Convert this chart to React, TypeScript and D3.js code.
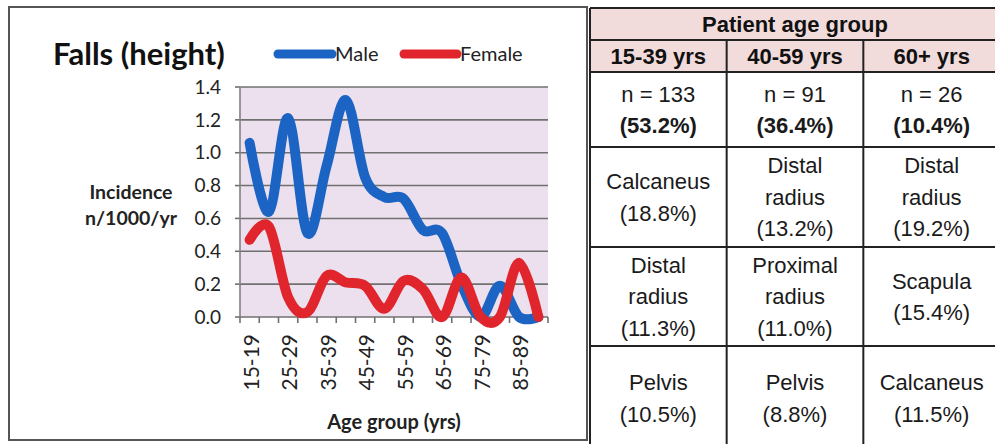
import React from "react";
import * as d3 from "d3";

const categories = ["15-19","20-24","25-29","30-34","35-39","40-44","45-49","50-54","55-59","60-64","65-69","70-74","75-79","80-84","85-89","90+"];
const maleValues = [1.06, 0.64, 1.21, 0.51, 0.92, 1.32, 0.85, 0.73, 0.72, 0.53, 0.51, 0.20, 0.0, 0.19, 0.0, 0.0];
const femaleValues = [0.47, 0.55, 0.12, 0.03, 0.25, 0.21, 0.19, 0.05, 0.22, 0.17, 0.0, 0.24, 0.0, 0.0, 0.33, 0.0];
const yTicks = [0, 0.2, 0.4, 0.6, 0.8, 1.0, 1.2, 1.4];
const seriesNames = ["Male", "Female"];

const tableTitle = "Patient age group";
const ageGroups = ["15-39 yrs", "40-59 yrs", "60+ yrs"];
const counts = ["n = 133", "n = 91", "n = 26"];
const shares = ["(53.2%)", "(36.4%)", "(10.4%)"];
const rank1 = [["Calcaneus", "(18.8%)"], ["Distal", "radius", "(13.2%)"], ["Distal", "radius", "(19.2%)"]];
const rank2 = [["Distal", "radius", "(11.3%)"], ["Proximal", "radius", "(11.0%)"], ["Scapula", "(15.4%)"]];
const rank3 = [["Pelvis", "(10.5%)"], ["Pelvis", "(8.8%)"], ["Calcaneus", "(11.5%)"]];

const BLUE = "#1c64c4";
const RED = "#e0262c";
const CHART_FONT = "Lato, 'Open Sans', sans-serif";
const TABLE_FONT = "'Liberation Sans', Arial, sans-serif";

export default function App() {
  const plot = { left: 240, right: 548, top: 87, bottom: 317 };
  const x = d3.scaleBand<string>().domain(categories).range([plot.left, plot.right]).padding(0);
  const bw = x.bandwidth();
  const cx = (c: string) => (x(c) as number) + bw / 2;
  const y = d3.scaleLinear().domain([0, 1.4]).range([plot.bottom, plot.top]);

  const line = d3
    .line<number>()
    .x((_, i) => cx(categories[i]))
    .y((d) => y(d))
    .curve(d3.curveCardinal.tension(0));

  const tickXs = categories.map((c) => x(c) as number).concat([plot.right]);

  // table geometry
  const tLeft = 590, tRight = 1000;
  const colX = d3.scaleBand<number>().domain([0, 1, 2]).range([tLeft, tRight]);
  const rowEdges = [8, 40, 72, 147, 247, 346, 450];
  const lineH = 31.5;
  const bodyRows = [rank1, rank2, rank3];

  const cellLines = (lines: string[], colIdx: number, top: number, bottom: number, boldLast = false) => {
    const cxx = (colX(colIdx) as number) + colX.bandwidth() / 2;
    const mid = (top + bottom) / 2;
    const start = mid - ((lines.length - 1) * lineH) / 2;
    return lines.map((t, k) => (
      <text
        key={k}
        x={cxx}
        y={start + k * lineH}
        dy="0.36em"
        textAnchor="middle"
        fontFamily={TABLE_FONT}
        fontSize={22}
        fontWeight={boldLast && k === lines.length - 1 ? "bold" : "normal"}
        fill="#1a1a1a"
      >
        {t}
      </text>
    ));
  };

  return (
    <svg width={995} height={444} style={{ position: "absolute", left: 0, top: 0, background: "#fff" }}>
      {/* chart panel */}
      <rect x={9} y={7} width={578} height={433} fill="#fff" stroke="#555" strokeWidth={2} />
      <text x={53} y={65} fontFamily={CHART_FONT} fontWeight="bold" fontSize={31} fill="#111">
        Falls (height)
      </text>

      {/* legend */}
      <line x1={278} x2={332} y1={54} y2={54} stroke={BLUE} strokeWidth={9} strokeLinecap="round" />
      <text x={335} y={61} fontFamily={CHART_FONT} fontSize={20} fill="#222">{seriesNames[0]}</text>
      <line x1={404} x2={457} y1={54} y2={54} stroke={RED} strokeWidth={9} strokeLinecap="round" />
      <text x={460} y={61} fontFamily={CHART_FONT} fontSize={20} fill="#222">{seriesNames[1]}</text>

      {/* plot area */}
      <rect x={plot.left} y={plot.top} width={plot.right - plot.left} height={plot.bottom - plot.top} fill="#ede0ee" />
      {yTicks.map((t) => (
        <g key={t}>
          <line x1={plot.left} x2={plot.right} y1={y(t)} y2={y(t)} stroke="#707070" strokeWidth={1.6} />
          <line x1={plot.left - 5} x2={plot.left} y1={y(t)} y2={y(t)} stroke="#707070" strokeWidth={1.6} />
          <text
            x={221}
            y={y(t)}
            dy="0.35em"
            textAnchor="end"
            fontFamily={CHART_FONT}
            fontSize={19}
            fill="#222"
          >
            {t.toFixed(1)}
          </text>
        </g>
      ))}
      <line x1={plot.left} x2={plot.left} y1={plot.top} y2={plot.bottom} stroke="#808080" strokeWidth={1.6} />
      {tickXs.map((tx, i) => (
        <line key={i} x1={tx} x2={tx} y1={plot.bottom} y2={plot.bottom + 6} stroke="#707070" strokeWidth={1.6} />
      ))}
      {categories.map((c, i) =>
        i % 2 === 0 ? (
          <text
            key={c}
            transform={`translate(${cx(c) + 2},${334}) rotate(-90)`}
            dy="0.35em"
            textAnchor="end"
            fontFamily={CHART_FONT}
            fontSize={21}
            fill="#222"
          >
            {c}
          </text>
        ) : null
      )}

      <path d={line(maleValues) || ""} fill="none" stroke={BLUE} strokeWidth={10} strokeLinejoin="round" strokeLinecap="round" />
      <path d={line(femaleValues) || ""} fill="none" stroke={RED} strokeWidth={10} strokeLinejoin="round" strokeLinecap="round" />

      {/* axis titles */}
      <text x={131} y={199} textAnchor="middle" fontFamily={CHART_FONT} fontWeight="bold" fontSize={19.5} fill="#222">
        Incidence
      </text>
      <text x={131} y={225} textAnchor="middle" fontFamily={CHART_FONT} fontWeight="bold" fontSize={19.5} fill="#222">
        n/1000/yr
      </text>
      <text
        x={(plot.left + plot.right) / 2}
        y={429}
        textAnchor="middle"
        fontFamily={CHART_FONT}
        fontWeight="bold"
        fontSize={20}
        fill="#222"
      >
        Age group (yrs)
      </text>

      {/* table */}
      <rect x={tLeft} y={rowEdges[0]} width={tRight - tLeft} height={rowEdges[2] - rowEdges[0]} fill="#f2dcdb" />
      <rect x={tLeft} y={rowEdges[2]} width={tRight - tLeft} height={rowEdges[6] - rowEdges[2]} fill="#fff" />
      {rowEdges.map((ry, i) => (
        <line key={i} x1={tLeft} x2={tRight} y1={ry} y2={ry} stroke="#222" strokeWidth={2} />
      ))}
      <line x1={tLeft} x2={tLeft} y1={rowEdges[0]} y2={rowEdges[6]} stroke="#222" strokeWidth={2} />
      {[1, 2].map((c) => (
        <line
          key={c}
          x1={colX(c) as number}
          x2={colX(c) as number}
          y1={rowEdges[1]}
          y2={rowEdges[6]}
          stroke="#222"
          strokeWidth={2}
        />
      ))}
      <text
        x={(tLeft + tRight) / 2}
        y={(rowEdges[0] + rowEdges[1]) / 2}
        dy="0.36em"
        textAnchor="middle"
        fontFamily={TABLE_FONT}
        fontWeight="bold"
        fontSize={22}
        fill="#111"
      >
        {tableTitle}
      </text>
      {ageGroups.map((g, i) => (
        <text
          key={g}
          x={(colX(i) as number) + colX.bandwidth() / 2}
          y={(rowEdges[1] + rowEdges[2]) / 2}
          dy="0.36em"
          textAnchor="middle"
          fontFamily={TABLE_FONT}
          fontWeight="bold"
          fontSize={22}
          fill="#111"
        >
          {g}
        </text>
      ))}
      {counts.map((n, i) => (
        <g key={n}>{cellLines([n, shares[i]], i, rowEdges[2], rowEdges[3], true)}</g>
      ))}
      {bodyRows.map((row, r) =>
        row.map((cell, c) => (
          <g key={`${r}-${c}`}>{cellLines(cell, c, rowEdges[3 + r], rowEdges[4 + r])}</g>
        ))
      )}
    </svg>
  );
}
